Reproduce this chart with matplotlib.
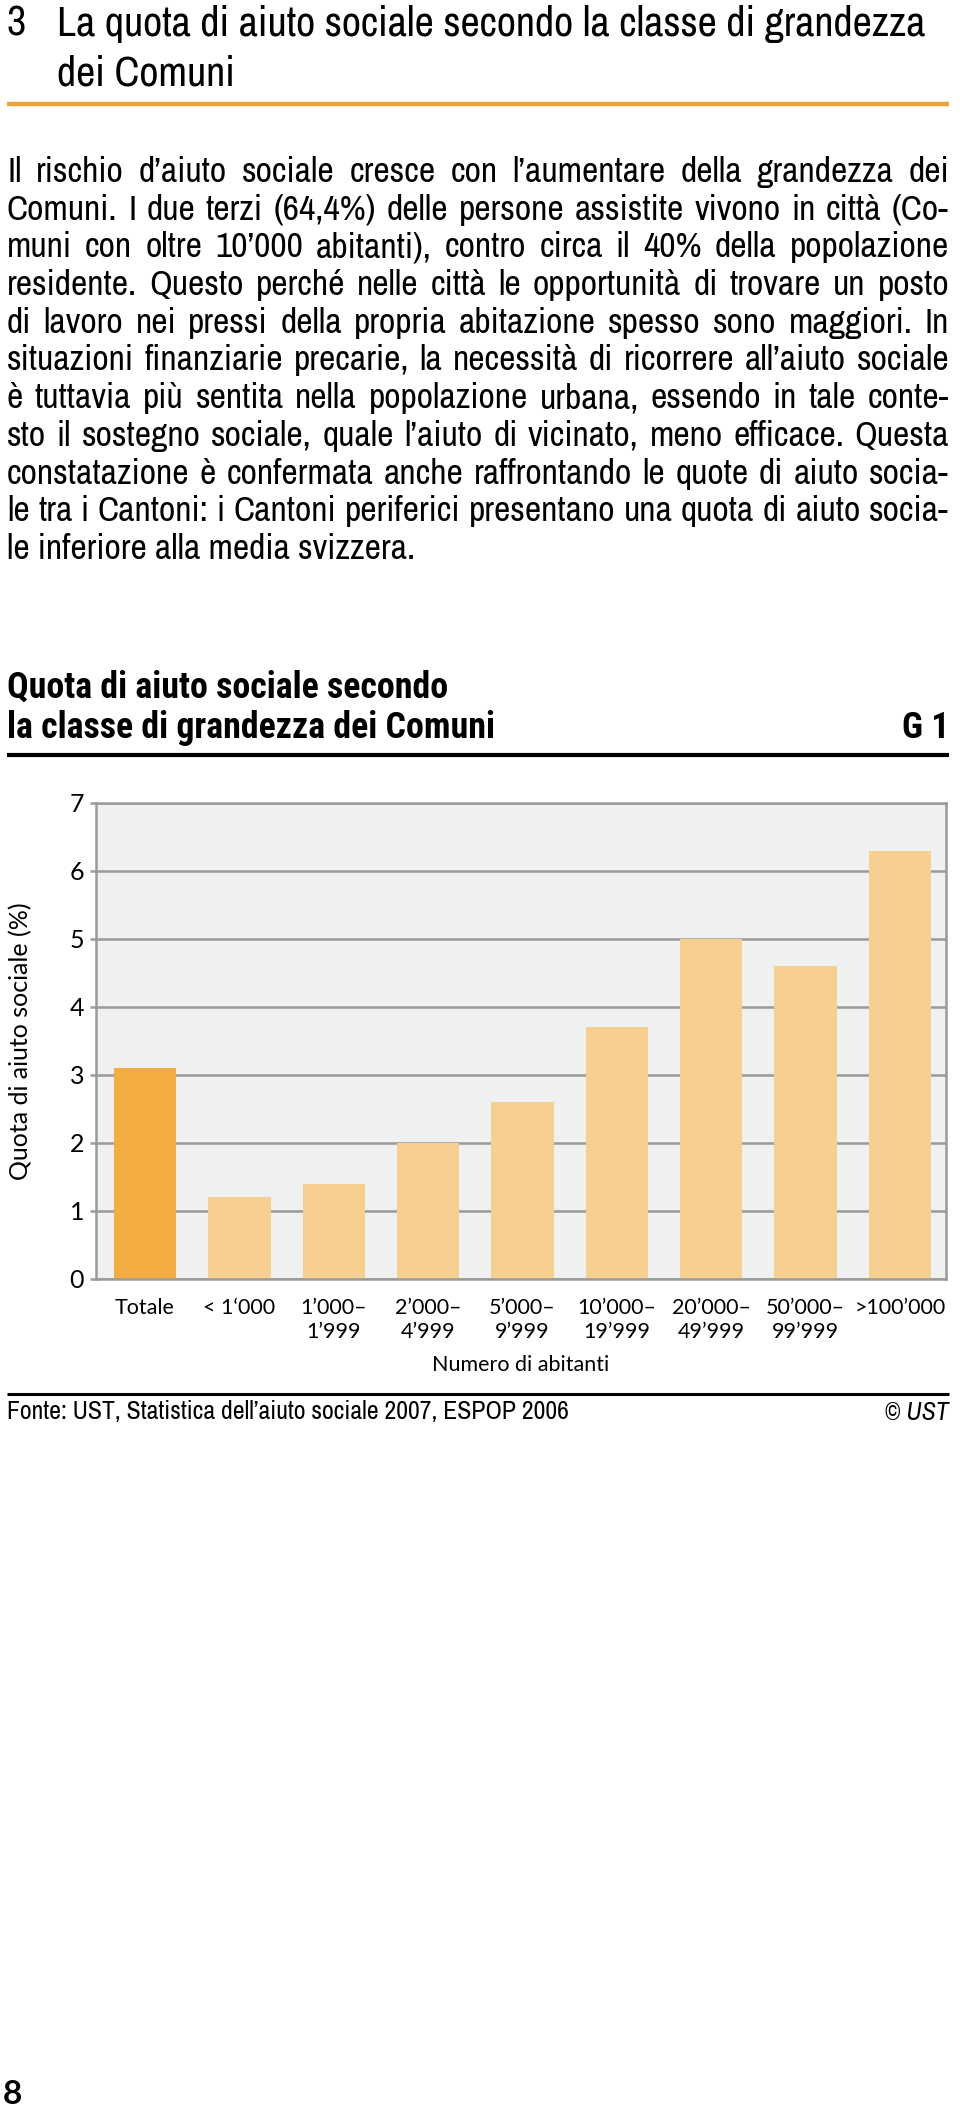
import matplotlib
matplotlib.use("Agg")
import matplotlib.pyplot as plt

# ---- data ----
CATEGORIES = ["Totale", "< 1‘000", "1’000–\n1’999", "2’000–\n4’999", "5’000–\n9’999",
              "10’000–\n19’999", "20’000–\n49’999", "50’000–\n99’999", ">100’000"]
QUOTA = [3.1, 1.2, 1.4, 2.0, 2.6, 3.7, 5.0, 4.6, 6.3]
YTICKS = [0, 1, 2, 3, 4, 5, 6, 7]

HEADING = ["La quota di aiuto sociale secondo la classe di grandezza", "dei Comuni"]
BODY = [
    "Il rischio d’aiuto sociale cresce con l’aumentare della grandezza dei",
    "Comuni. I due terzi (64,4%) delle persone assistite vivono in città (Co-",
    "muni con oltre 10’000 abitanti), contro circa il 40% della popolazione",
    "residente. Questo perché nelle città le opportunità di trovare un posto",
    "di lavoro nei pressi della propria abitazione spesso sono maggiori. In",
    "situazioni finanziarie precarie, la necessità di ricorrere all’aiuto sociale",
    "è tuttavia più sentita nella popolazione urbana, essendo in tale conte-",
    "sto il sostegno sociale, quale l’aiuto di vicinato, meno efficace. Questa",
    "constatazione è confermata anche raffrontando le quote di aiuto socia-",
    "le tra i Cantoni: i Cantoni periferici presentano una quota di aiuto socia-",
    "le inferiore alla media svizzera.",
]
CHART_TITLE = ["Quota di aiuto sociale secondo", "la classe di grandezza dei Comuni"]
SOURCE = "Fonte: UST, Statistica dell’aiuto sociale 2007, ESPOP 2006"

NARROW = ["Archivo Narrow", "Roboto Condensed", "DejaVu Sans"]
NARROW_B = ["Roboto Condensed", "DejaVu Sans"]
CHART_FONT = ["Lato", "DejaVu Sans"]
ORANGE, PEACH = "#F2AC42", "#F7CF91"
GRID = "#9A9A9A"

W, H = 960, 2112
fig = plt.figure(figsize=(W / 100, H / 100), dpi=100)
renderer = fig.canvas.get_renderer()

# page overlay in pixel coordinates
pg = fig.add_axes([0, 0, 1, 1])
pg.set_xlim(0, W); pg.set_ylim(H, 0); pg.axis("off")


def width(s, fs, **kw):
    t = pg.text(0, 0, s, fontsize=fs, **kw)
    w = t.get_window_extent(renderer).width
    t.remove()
    return w


def fit(s, target, **kw):
    # font size that makes s about target px wide
    return 20 * target / width(s, 20, **kw)


X0, X1 = 7, 949

# section heading
fs = fit(HEADING[0], 869, family=NARROW)
pg.text(X0, 24, "3", fontsize=fs, family=NARROW, va="center")
for i, s in enumerate(HEADING):
    pg.text(57, 24 + i * 50, s, fontsize=fs, family=NARROW, va="center")
pg.plot([X0, X1], [104, 104], color="#E9A23B", lw=3.2, solid_capstyle="butt")

# justified body text (word by word, baseline aligned)
fs = min(fit(l, X1 - X0 - 4, family=NARROW) for l in BODY[:-1])
for i, line in enumerate(BODY):
    y = 182 + i * 37.7
    if i == len(BODY) - 1:
        pg.text(X0, y, line, fontsize=fs, family=NARROW, va="baseline")
        continue
    words = line.split(" ")
    ts = [pg.text(0, y, w, fontsize=fs, family=NARROW, va="baseline") for w in words]
    ws = [t.get_window_extent(renderer).width for t in ts]
    gap = (X1 - X0 - sum(ws)) / (len(words) - 1)
    x = X0
    for t, w in zip(ts, ws):
        t.set_x(x); x += w + gap

# chart title block
fs = fit(CHART_TITLE[0], 441, family=NARROW_B, weight="bold")
for i, s in enumerate(CHART_TITLE):
    pg.text(X0, 688 + i * 40, s, fontsize=fs, family=NARROW_B, weight="bold", va="center")
pg.text(X1, 728, "G 1", fontsize=fs, family=NARROW_B, weight="bold", va="center", ha="right")
pg.plot([X0, X1], [755, 755], color="black", lw=3, solid_capstyle="butt")

# bar chart
ax = fig.add_axes([96 / W, 1 - 1279 / H, 850 / W, 476 / H])
ax.set_facecolor("#EFF0F0")
xs = range(len(QUOTA))
ax.bar(xs, QUOTA, width=0.66, color=[ORANGE] + [PEACH] * (len(QUOTA) - 1), zorder=2)
ax.set_xlim(-0.52, len(QUOTA) - 0.51)
ax.set_ylim(0, 7)
ax.set_yticks(YTICKS)
ax.yaxis.grid(True, color=GRID, lw=1.8, zorder=1)
ax.set_axisbelow(True)
for sp in ax.spines.values():
    sp.set_color(GRID); sp.set_linewidth(1.8)
ax.tick_params(axis="y", length=4.5, width=1.8, color=GRID, pad=4, labelsize=18)
ax.tick_params(axis="x", length=0, pad=14, labelsize=15.5)
ax.set_xticks(list(xs))
ax.set_xticklabels(CATEGORIES, linespacing=1.25)
for lab in ax.get_xticklabels() + ax.get_yticklabels():
    lab.set_family(CHART_FONT)
ax.set_xlabel("Numero di abitanti", fontsize=15.5, family=CHART_FONT, labelpad=9)
ax.set_ylabel("Quota di aiuto sociale (%)", fontsize=18, family=CHART_FONT)
ax.yaxis.set_label_coords(-0.075, 0.5)

# source line
pg.plot([X0, X1], [1394, 1394], color="black", lw=2.2, solid_capstyle="butt")
fs = fit(SOURCE, 563, family=NARROW)
pg.text(X0, 1412, SOURCE, fontsize=fs, family=NARROW, va="center")
pg.text(X1, 1412, "© UST", fontsize=fs, family=NARROW, style="italic", va="center", ha="right")

pg.text(3, 2094, "8", fontsize=24, family=CHART_FONT, weight="bold", va="center")

fig.savefig("out.png", dpi=100)
